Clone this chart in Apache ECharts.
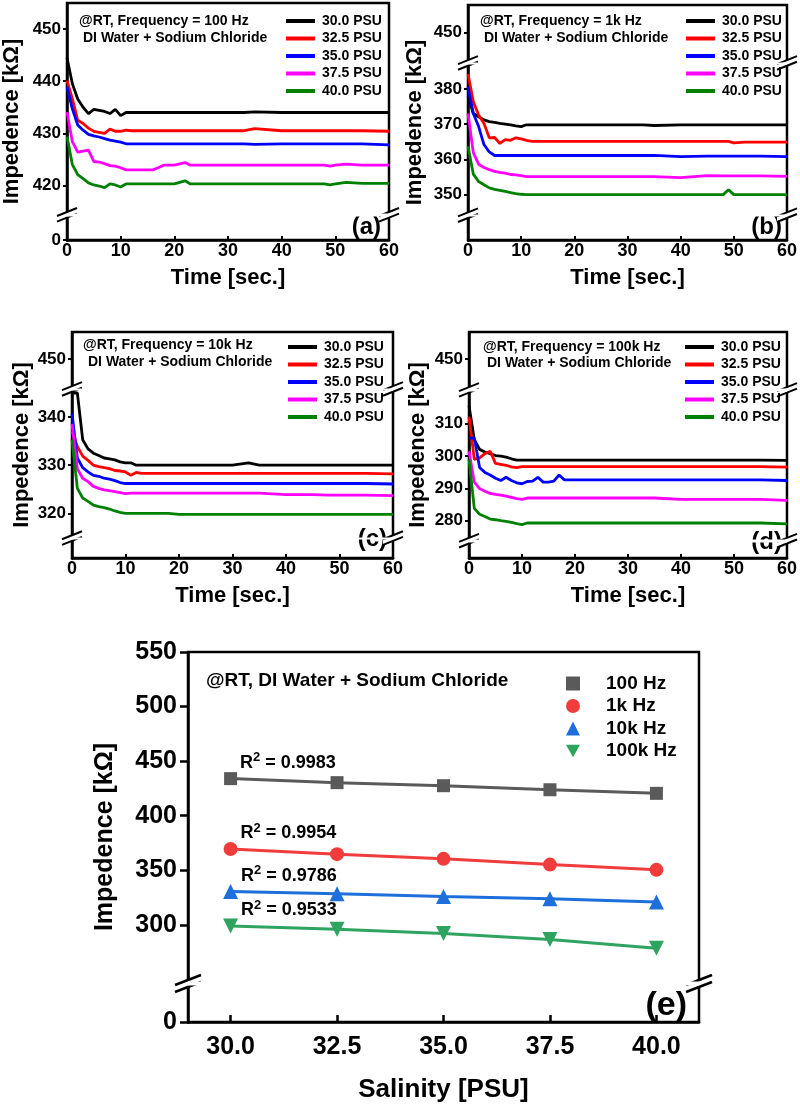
<!DOCTYPE html>
<html><head><meta charset="utf-8">
<script src="https://cdn.jsdelivr.net/npm/echarts@6/dist/echarts.min.js"></script>
<style>html,body{margin:0;padding:0;background:#fff}#c{width:800px;height:1104px}</style>
</head><body><div id="c"></div><script>
// ---------- data ----------
const T = [0,1,2,3,4,5,6,7,8,9,10,11,12,13,14,15,16,17,18,20,22,23,25,30,33,35,40,45,48,49,50,52,55,60];
const psuNames = ['30.0 PSU','32.5 PSU','35.0 PSU','37.5 PSU','40.0 PSU'];

// (a) 100 Hz
const a30 = [444.5,439.5,436.6,435.0,433.8,434.6,434.4,434.2,433.8,434.6,433.4,434.0,434.0,434.0,434.0,434.0,434.0,434.0,434.0,434.0,434.0,434.0,434.0,434.0,434.0,434.1,434.0,434.0,434.0,434.0,434.0,434.0,434.0,434.0];
const a32 = [440.1,436.6,432.5,431.9,431.0,430.4,430.2,430.0,430.8,430.4,430.4,430.6,430.5,430.5,430.5,430.5,430.5,430.5,430.5,430.5,430.5,430.5,430.5,430.5,430.5,430.9,430.5,430.5,430.5,430.5,430.5,430.5,430.5,430.4];
const a35 = [438.9,434.7,431.6,430.6,429.8,429.5,429.3,429.0,428.7,428.5,428.3,428.0,428.0,428.0,428.0,428.0,428.0,428.0,428.0,428.0,428.0,428.0,428.0,428.0,428.0,427.9,428.0,428.0,428.0,428.0,428.0,428.0,428.0,427.8];
const a37 = [434.1,428.4,426.4,426.6,426.8,424.6,424.5,424.2,423.8,423.7,423.4,423.0,423.0,423.0,423.0,423.0,423.0,423.4,423.9,423.9,424.4,423.9,423.9,423.9,423.9,423.9,423.9,423.9,423.9,423.7,423.9,424.1,423.9,423.9];
const a40 = [429.4,424.0,422.1,421.3,420.5,420.1,419.9,419.6,420.3,420.1,419.7,420.3,420.3,420.3,420.3,420.3,420.3,420.3,420.3,420.3,420.9,420.3,420.3,420.3,420.3,420.3,420.3,420.3,420.3,420.1,420.3,420.6,420.4,420.4];
// (b) 1k Hz
const b30 = [378.0,373.0,372.1,371.2,370.7,370.5,370.2,370.0,369.8,369.5,369.3,369.8,369.8,369.8,369.8,369.8,369.8,369.8,369.8,369.8,369.8,369.8,369.8,369.8,369.8,369.6,369.8,369.8,369.8,369.8,369.8,369.8,369.8,369.8];
const b32 = [384.2,376.3,372.6,370.2,366.1,366.2,364.5,365.6,365.4,366.1,365.8,365.4,365.1,365.1,365.1,365.1,365.1,365.1,365.1,365.1,365.1,365.1,365.1,365.1,365.1,365.1,365.1,365.1,365.1,365.1,364.7,364.9,364.9,364.9];
const b35 = [380.5,373.0,369.3,364.2,362.1,361.1,361.1,361.1,361.1,361.1,361.1,361.1,361.1,361.1,361.1,361.1,361.1,361.1,361.1,361.1,361.1,361.1,361.1,361.1,361.1,361.1,360.8,360.9,360.9,360.9,360.9,360.9,360.9,360.8];
const b37 = [373.0,361.9,358.6,357.7,357.1,356.6,356.3,356.1,355.7,355.6,355.4,355.1,355.1,355.1,355.1,355.1,355.1,355.1,355.1,355.1,355.1,355.1,355.1,355.1,355.1,355.1,354.8,355.4,355.3,355.3,355.3,355.3,355.3,355.2];
const b40 = [363.7,355.8,353.7,352.8,351.9,351.5,351.2,350.9,350.6,350.3,350.1,350.0,350.0,350.0,350.0,350.0,350.0,350.0,350.0,350.0,350.0,350.0,350.0,350.0,350.0,350.0,350.0,350.0,350.0,351.4,350.0,350.0,350.0,350.0];
// (c) 10k Hz
const c30 = [345.0,345.0,335.3,333.4,332.5,332.0,331.5,331.3,331.1,330.7,330.5,330.5,330.0,330.0,330.0,330.0,330.0,330.0,330.0,330.0,330.0,330.0,330.0,330.0,330.5,330.0,330.0,330.0,330.0,330.0,330.0,330.0,330.0,330.0];
const c32 = [337.0,333.9,331.9,331.0,330.0,329.7,329.5,329.3,328.9,328.8,328.6,327.9,328.5,328.3,328.3,328.3,328.3,328.3,328.3,328.3,328.3,328.3,328.3,328.3,328.3,328.3,328.3,328.3,328.3,328.3,328.3,328.3,328.3,328.2];
const c35 = [340.7,331.5,329.5,328.6,327.9,327.7,327.3,327.1,326.8,326.4,326.2,326.2,326.2,326.2,326.2,326.2,326.2,326.2,326.2,326.2,326.2,326.2,326.2,326.2,326.2,326.2,326.2,326.2,326.2,326.2,326.2,326.2,326.2,326.1];
const c37 = [338.6,329.3,327.3,326.6,325.6,325.2,324.9,324.7,324.5,324.3,324.1,324.2,324.2,324.2,324.2,324.2,324.2,324.2,324.2,324.2,324.2,324.2,324.2,324.2,324.2,324.2,323.9,323.9,323.8,323.8,323.8,323.8,323.8,323.7];
const c40 = [335.3,325.2,323.2,322.5,321.7,321.4,321.2,320.9,320.5,320.2,320.0,320.0,320.0,320.0,320.0,320.0,320.0,320.0,320.0,319.8,319.8,319.8,319.8,319.8,319.8,319.8,319.8,319.8,319.8,319.8,319.8,319.8,319.8,319.8];
// (d) 100k Hz
const d30 = [315.5,305.0,302.0,301.2,300.7,300.1,299.9,299.6,299.1,298.7,298.7,298.7,298.7,298.7,298.7,298.7,298.7,298.7,298.7,298.7,298.7,298.7,298.7,298.7,298.7,298.7,298.7,298.7,298.7,298.7,298.7,298.7,298.7,298.6];
const d32 = [312.0,298.9,299.4,300.7,301.4,297.7,297.4,297.1,296.6,296.4,296.7,296.7,296.7,296.7,296.7,296.7,296.7,296.7,296.7,296.7,296.7,296.7,296.7,296.7,296.7,296.7,296.7,296.7,296.7,296.7,296.7,296.7,296.7,296.5];
const d35 = [305.5,305.5,296.4,294.9,294.1,293.1,292.4,293.4,292.4,291.7,291.4,292.1,292.2,293.4,291.9,291.9,292.2,294.1,292.6,292.6,292.6,292.6,292.6,292.6,292.6,292.6,292.6,292.6,292.6,292.6,292.6,292.6,292.6,292.4];
const d37 = [301.4,291.9,289.9,289.1,288.4,288.1,287.9,287.6,287.2,286.8,286.6,287.0,287.0,287.0,287.0,287.0,287.0,287.0,287.0,287.0,287.0,287.0,287.0,287.0,287.0,287.0,286.6,286.6,286.6,286.6,286.6,286.6,286.6,286.3];
const d40 = [298.9,283.8,282.0,281.3,280.5,280.3,280.0,279.8,279.5,279.1,278.8,279.3,279.3,279.3,279.3,279.3,279.3,279.3,279.3,279.3,279.3,279.3,279.3,279.3,279.3,279.3,279.3,279.3,279.3,279.3,279.3,279.3,279.3,279.0];

// (e) summary
const salinity = [30.0, 32.5, 35.0, 37.5, 40.0];
const freqNames = ['100 Hz','1k Hz','10k Hz','100k Hz'];
const e100 = [434.0, 430.3, 427.5, 423.8, 420.5];
const e1k = [369.5, 364.8, 360.5, 355.2, 350.4];
const e10k = [330.5, 328.5, 326.0, 324.0, 321.0];
const e100k = [299.0, 296.0, 292.0, 286.5, 278.5];
const r2 = ['0.9983','0.9954','0.9786','0.9533'];

// tick labels
const ticksA = [0,420,430,440,450];
const ticksB = [350,360,370,380,450];
const ticksC = [320,330,340,450];
const ticksD = [280,290,300,310,450];
const ticksE = [0,300,350,400,450,500,550];
const ticksSal = [30,32.5,35,37.5,40];

// ---------- styling ----------
const FONT = "'Liberation Sans', Arial, Helvetica, sans-serif";
const psuColors = ['#000000','#ff0000','#0000ff','#ff00ff','#008000'];
const eColors = ['#5a5a5a','#f03c3c','#1e6fdc','#2fa460'];

const panels = [
  {grid:{left:64,top:3,width:325,height:237}, ymax:455, breaks:[{start:4.6,end:414.6}], ticks:ticksA,
   data:[a30,a32,a35,a37,a40], ann1:'@RT, Frequency = 100 Hz', a1:[79,21], a2:[83,38], leg:[286,14], tag:'(a)', tagPos:[381,227], yGap:44},
  {grid:{left:468,top:5,width:320,height:235}, ymax:457.8, breaks:[{start:6.7,end:344.5},{start:387,end:441.7}], ticks:ticksB,
   data:[b30,b32,b35,b37,b40], ann1:'@RT, Frequency = 1k Hz', a1:[480,21], a2:[484,38], leg:[686,14], tag:'(b)', tagPos:[782,227], yGap:42},
  {grid:{left:72,top:332,width:321,height:226}, ymax:455.6, breaks:[{start:3.9,end:315.1},{start:345.6,end:444}], ticks:ticksC,
   data:[c30,c32,c35,c37,c40], ann1:'@RT, Frequency = 10k Hz', a1:[83,345], a2:[88,362], leg:[288,340], tag:'(c)', tagPos:[387,539], yGap:39},
  {grid:{left:469,top:332,width:319,height:226}, ymax:458.4, breaks:[{start:5,end:274.2},{start:320,end:440.9}], ticks:ticksD,
   data:[d30,d32,d35,d37,d40], ann1:'@RT, Frequency = 100k Hz', a1:[483,347], a2:[487,363], leg:[685,340], tag:'(d)', tagPos:[782,542], yGap:40}
];
const eBreaks = [{start:33.6,end:248}];

const grids = [], xAxes = [], yAxes = [], series = [], legends = [], texts = [];
const frame = {show:true, lineStyle:{color:'#000', width:2.5}};

panels.forEach((p, i) => {
  grids.push(Object.assign({show:true, borderColor:'#000', borderWidth:2.5, containLabel:false}, p.grid));
  xAxes.push({
    type:'value', gridIndex:i, min:0, max:60, interval:10,
    name:'Time [sec.]', nameLocation:'middle', nameGap:27,
    nameTextStyle:{fontFamily:FONT, fontWeight:'bold', fontSize:22, color:'#000'},
    axisLine:frame, splitLine:{show:false},
    axisTick:{show:true, inside:true, length:4, lineStyle:{color:'#000', width:2}},
    axisLabel:{fontFamily:FONT, fontWeight:'bold', fontSize:18, color:'#000', margin:2}
  });
  yAxes.push({
    type:'value', gridIndex:i, min:0, max:p.ymax,
    breaks:p.breaks.map(b => ({start:b.start, end:b.end, gap:'1%'})),
    breakArea:{show:true, itemStyle:{color:'#fff', borderColor:'#fff', borderWidth:0, opacity:1}, zigzagAmplitude:0, expandOnClick:false},
    name:'Impedence [kΩ]', nameLocation:'middle', nameGap:p.yGap,
    nameTextStyle:{fontFamily:FONT, fontWeight:'bold', fontSize:22, color:'#000'},
    axisLine:frame, splitLine:{show:false},
    axisTick:{show:true, length:4, customValues:p.ticks, lineStyle:{color:'#000', width:2}},
    axisLabel:{fontFamily:FONT, fontWeight:'bold', fontSize:17, color:'#000', margin:6, customValues:p.ticks}
  });
  p.data.forEach((arr, k) => {
    series.push({
      type:'line', name:psuNames[k], xAxisIndex:i, yAxisIndex:i,
      data:T.map((t, j) => [t, arr[j]]),
      showSymbol:false, symbol:'none', color:psuColors[k],
      lineStyle:{width:2.8, color:psuColors[k]}, z:3
    });
  });
  legends.push({
    orient:'vertical', left:p.leg[0], top:p.leg[1], padding:0, z:40, data:psuNames,
    icon:'rect', itemWidth:29, itemHeight:4, itemGap:3.5,
    textStyle:{fontFamily:FONT, fontWeight:'bold', fontSize:14, color:'#000', lineHeight:14, padding:[0,0,0,2]}
  });
  const ts = {fontFamily:FONT, fontWeight:'bold', fontSize:14, fill:'#000', verticalAlign:'middle'};
  texts.push({type:'text', style:Object.assign({x:p.a1[0], y:p.a1[1], text:p.ann1}, ts), z:20});
  texts.push({type:'text', style:Object.assign({x:p.a2[0], y:p.a2[1], text:'DI Water + Sodium Chloride'}, ts), z:20});
  texts.push({type:'text', style:{x:p.tagPos[0], y:p.tagPos[1], text:p.tag, align:'right', verticalAlign:'middle',
    fontFamily:FONT, fontWeight:'bold', fontSize:24, fill:'#000'}, z:20});
});

// panel (e)
const ei = 4;
grids.push({show:true, borderColor:'#000', borderWidth:2.5, left:188, top:652, width:511, height:376});
xAxes.push({
  type:'value', gridIndex:ei, min:29, max:41,
  name:'Salinity [PSU]', nameLocation:'middle', nameGap:55,
  nameTextStyle:{fontFamily:FONT, fontWeight:'bold', fontSize:26, color:'#000'},
  axisLine:frame, splitLine:{show:false},
  axisTick:{show:true, inside:true, length:7, customValues:ticksSal, lineStyle:{color:'#000', width:2.5}},
  axisLabel:{fontFamily:FONT, fontWeight:'bold', fontSize:25, color:'#000', margin:13, customValues:ticksSal,
    formatter:v => Number(v).toFixed(1)}
});
yAxes.push({
  type:'value', gridIndex:ei, min:0, max:550,
  breaks:eBreaks.map(b => ({start:b.start, end:b.end, gap:'1%'})),
  breakArea:{show:true, itemStyle:{color:'#fff', borderColor:'#fff', borderWidth:0, opacity:1}, zigzagAmplitude:0, expandOnClick:false},
  name:'Impedence [kΩ]', nameLocation:'middle', nameGap:70,
  nameTextStyle:{fontFamily:FONT, fontWeight:'bold', fontSize:25, color:'#000'},
  axisLine:frame, splitLine:{show:false},
  axisTick:{show:true, length:8, customValues:ticksE, lineStyle:{color:'#000', width:2.5}},
  axisLabel:{fontFamily:FONT, fontWeight:'bold', fontSize:25, color:'#000', margin:11, customValues:ticksE}
});
const eData = [e100, e1k, e10k, e100k];
const eSym = ['rect','circle','triangle','triangle'];
const eSize = [13, 14, 15, 15];
const eRot = [0, 0, 0, 180];
eData.forEach((arr, k) => {
  series.push({
    type:'line', name:freqNames[k], xAxisIndex:ei, yAxisIndex:ei,
    symbol:eSym[k], symbolSize:eSize[k], symbolRotate:eRot[k], showSymbol:true,
    color:eColors[k], itemStyle:{color:eColors[k]},
    lineStyle:{width:3, color:eColors[k]},
    data:salinity.map((s, j) => j === 0 ? {
      value:[s, arr[j]],
      label:{show:true, position:'right', distance:3, offset:[0,-16],
        formatter:'{r|R}{s|2}{r| = ' + r2[k] + '}',
        rich:{r:{fontFamily:FONT, fontWeight:'bold', fontSize:18, color:'#000'},
              s:{fontFamily:FONT, fontWeight:'bold', fontSize:13, color:'#000', padding:[0,0,10,0]}}}
    } : [s, arr[j]]),
    z:3
  });
});
legends.push({
  orient:'vertical', left:566, top:674, padding:0, z:40,
  data:[{name:'100 Hz', icon:'rect'},{name:'1k Hz', icon:'circle'},{name:'10k Hz', icon:'triangle'},{name:'100k Hz', icon:'path://M0,0L10,0L5,9Z'}],
  itemWidth:14, itemHeight:14, itemGap:3.5,
  textStyle:{fontFamily:FONT, fontWeight:'bold', fontSize:19, color:'#000', lineHeight:19, padding:[0,0,0,21]}
});
texts.push({type:'text', style:{x:206, y:681, text:'@RT, DI Water + Sodium Chloride', verticalAlign:'middle',
  fontFamily:FONT, fontWeight:'bold', fontSize:19, fill:'#000'}, z:20});
texts.push({type:'text', style:{x:687, y:1006, text:'(e)', align:'right', verticalAlign:'middle',
  fontFamily:FONT, fontWeight:'bold', fontSize:34, fill:'#000'}, z:20});

const chart = echarts.init(document.getElementById('c'), null, {renderer:'canvas'});
chart.setOption({
  animation:false, backgroundColor:'#fff',
  grid:grids, xAxis:xAxes, yAxis:yAxes, series:series, legend:legends
});

// axis-break "//" marks on the frame, placed through the axes' own scales
function breakMark(x, yc, h, r, s, w) {
  return [
    {type:'polygon', shape:{points:[[x-h, yc+s+r],[x+h, yc+s-r],[x+h, yc-s-r],[x-h, yc-s+r]]}, style:{fill:'#fff'}, z:30},
    {type:'line', shape:{x1:x-h, y1:yc+s+r, x2:x+h, y2:yc+s-r}, style:{stroke:'#000', lineWidth:w}, z:31},
    {type:'line', shape:{x1:x-h, y1:yc-s+r, x2:x+h, y2:yc-s-r}, style:{stroke:'#000', lineWidth:w}, z:31}
  ];
}
const marks = [];
const allBreaks = panels.map(p => p.breaks).concat([eBreaks]);
const xr = [[0,60],[0,60],[0,60],[0,60],[29,41]];
allBreaks.forEach((bl, i) => {
  const xl = chart.convertToPixel({xAxisIndex:i}, xr[i][0]);
  const xh = chart.convertToPixel({xAxisIndex:i}, xr[i][1]);
  bl.forEach(b => {
    const y1 = chart.convertToPixel({yAxisIndex:i}, b.start);
    const y2 = chart.convertToPixel({yAxisIndex:i}, b.end);
    const yc = (y1 + y2) / 2;
    const big = i === 4;
    [xl, xh].forEach(x => marks.push(...breakMark(x, yc, big ? 13 : 10, big ? 5 : 4, big ? 3.5 : 2.8, big ? 2.5 : 2)));
  });
});
chart.setOption({graphic:texts.concat(marks)});
</script></body></html>
